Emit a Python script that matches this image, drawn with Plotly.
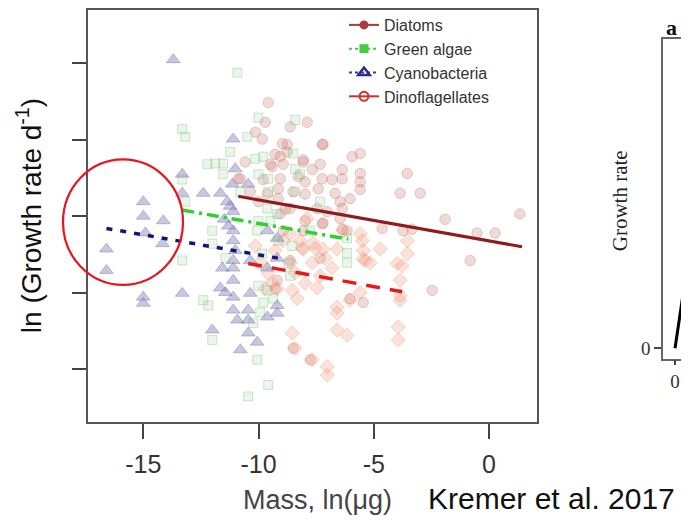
import plotly.graph_objects as go

# ---------------- data (ln mass in ug, ln growth rate per day) ----------------
diatom_x = [-9.58, -9.71, -7.89, -9.84, -8.97, -8.76, -7.24, -9.28, -9.06, -8.06, -5.94, -5.59,
            -9.41, -8.93, -7.67, -7.33, -6.37, -5.59, -9.06, -9.15, -7.98, -7.24, -6.81, -6.37,
            -5.59, -5.59, -8.50, -7.98, -7.41, -6.68, -6.03, -6.46, -10.88, -10.01, -9.15, -8.84,
            -7.98, -7.20, -6.37, -8.76, -9.49, -8.06, -7.20, -3.55, -3.86, -2.99, -1.91, 1.34,
            -0.52, 0.26, -0.82, -2.47, -3.73, -4.64, -6.16, -6.46, -7.02, -7.46, -8.63, -9.06,
            -8.93, -8.06, -7.33, -8.63, -9.19, -6.03, -5.46, -7.76, -8.50, -10.79, -9.62, -3.34,
            -7.24, -6.37, -9.28, -10.14, -8.63, -10.58, -8.28, -9.80, -10.36]
diatom_y = [0.49, 0.23, 0.23, 0.01, -0.05, -0.06, -0.06, -0.19, -0.22, -0.26, -0.22, -0.18,
            -0.35, -0.32, -0.39, -0.32, -0.39, -0.44, -0.51, -0.64, -0.55, -0.51, -0.52, -0.51,
            -0.55, -0.65, -0.68, -0.71, -0.64, -0.70, -0.77, -0.81, -0.51, -0.81, -0.77, -0.91,
            -1.06, -1.09, -0.90, -0.16, -0.32, -0.29, -0.06, -0.44, -0.70, -0.70, -1.04, -0.97,
            -1.22, -1.22, -1.58, -1.97, -1.19, -1.16, -1.19, -1.03, -0.94, -0.90, -0.90, -0.97,
            -1.19, -1.19, -1.55, -1.58, -1.84, -2.08, -2.13, -2.88, -2.73, -0.51, -0.71, -1.17,
            -1.10, -1.17, -1.95, 0.10, 0.17, -0.29, -0.48, -0.52, -0.68]

green_x = [-10.92, -13.31, -13.18, -10.49, -10.01, -8.41, -12.22, -11.88, -11.53, -11.53, -13.31,
           -10.14, -9.80, -8.50, -10.01, -9.58, -8.41, -8.41, -9.58, -9.62, -9.19, -10.01, -13.18,
           -12.01, -12.01, -13.31, -11.44, -12.40, -12.18, -12.01, -10.06, -9.58, -10.45, -10.23,
           -9.80, -9.36, -6.16, -6.16, -6.16, -9.84, -10.01, -9.62, -9.93, -8.63, -8.71, -8.19,
           -9.49, -10.06, -8.54, -11.23, -10.79, -9.15, -7.33, -7.76]
green_y = [0.88, 0.14, 0.04, 0.04, 0.29, 0.26, -0.32, -0.31, -0.31, -0.45, -0.52,
           -0.25, -0.22, -0.18, -0.45, -0.51, -0.38, -0.68, -0.68, -0.90, -0.97, -1.06, -0.81,
           -1.19, -1.36, -1.58, -1.55, -2.10, -2.17, -2.62, -2.88, -3.21, -3.36, -2.40,
           -2.13, -2.08, -1.29, -1.48, -1.61, -1.49, -1.91, -1.97, -2.26, -1.78, -1.62, -0.45,
           -1.06, -1.19, -1.39, -0.16, -0.68, -1.32, -0.81, -1.19]

cyano_x = [-13.70, -11.10, -13.31, -13.31, -12.40, -11.66, -11.01, -11.14, -10.45, -15.00, -15.00,
           -14.13, -11.36, -11.23, -11.10, -14.17, -16.60, -16.60, -15.00, -15.00, -13.31, -12.01,
           -11.66, -11.10, -11.10, -11.10, -11.57, -11.10, -10.36, -9.62, -9.19, -9.62, -9.19,
           -11.10, -11.10, -10.36, -10.45, -11.10, -10.92, -9.19, -9.19, -9.62, -10.45, -10.06,
           -10.79, -11.44, -11.01, -10.45, -14.91, -11.49, -11.31]
cyano_y = [1.05, 0.01, -0.45, -0.70, -0.70, -0.70, -0.38, -0.58, -0.58, -0.81, -1.00,
           -1.06, -0.81, -0.87, -0.94, -1.36, -1.43, -1.71, -2.06, -2.14, -2.01, -2.49,
           -1.94, -1.19, -1.32, -1.58, -1.68, -1.68, -1.58, -1.19, -1.29, -1.68, -1.55,
           -1.84, -2.06, -2.01, -2.23, -2.23, -2.36, -2.17, -2.27, -2.32, -2.53, -2.65,
           -2.75, -2.00, -1.45, -2.36, -1.22, -1.04, -1.13]

dino_x = [-5.59, -5.46, -5.37, -5.59, -6.03, -6.59, -6.59, -6.59, -6.16, -8.54, -8.41, -7.67,
          -7.02, -7.02, -8.63, -8.11, -7.54, -7.11, -7.67, -6.81, -8.63, -8.41, -7.98, -8.54,
          -8.32, -9.19, -9.71, -9.28, -9.58, -9.41, -7.89, -8.93, -8.19, -7.63, -8.06, -7.20,
          -6.59, -6.33, -5.50, -4.72, -5.46, -3.99, -3.86, -3.55, -3.55, -3.86, -3.94, -3.94,
          -5.16, -3.77, -3.86, -7.46, -7.33, -10.14, -9.93]
dino_y = [-1.23, -1.45, -1.58, -2.00, -2.10, -2.19, -2.27, -2.49, -2.56, -2.53, -2.73, -2.88,
          -2.97, -3.08, -1.23, -1.42, -1.42, -1.55, -1.61, -1.68, -1.61, -1.74, -1.88, -1.97,
          -2.08, -1.95, -1.95, -1.45, -1.75, -1.87, -1.03, -1.32, -1.32, -1.35, -1.43, -1.43,
          -1.43, -1.19, -1.32, -1.43, -1.56, -1.62, -1.84, -1.32, -1.49, -2.10, -2.45, -2.62,
          -1.61, -1.65, -2.04, -1.94, -1.78, -1.39, -1.61]

# fitted regression lines (endpoints)
fit_diatom_x, fit_diatom_y = [-10.88, 1.43], [-0.74, -1.40]
fit_green_x, fit_green_y = [-13.31, -6.11], [-0.92, -1.30]
fit_cyano_x, fit_cyano_y = [-16.60, -9.15], [-1.16, -1.55]
fit_dino_x, fit_dino_y = [-10.45, -3.77], [-1.62, -1.99]

groups = ["Diatoms", "Green algae", "Cyanobacteria", "Dinoflagellates"]
x_ticks = [-15, -10, -5, 0]
x_tick_labels = ["-15", "-10", "-5", "0"]
y_ticks = [-3, -2, -1, 0, 1]

# partial panel "a" (growth rate vs resource)
panel_a_x = [0, 0.6]
panel_a_y = [0, 0.378]
panel_a_pt_x = [0.585]
panel_a_pt_y = [0.821]

# ---------------- layout helpers (page has an 8px body margin) ----------------
OFF = 8
W, H = 689 - OFF, 520 - OFF


def px(x):
    return (x - OFF) / W


def py(y):
    return min(1.0, 1 - (y - OFF) / H)


# ---------------- figure ----------------
fig = go.Figure()

fig.add_trace(go.Scatter(x=diatom_x, y=diatom_y, mode="markers", showlegend=False,
                         marker=dict(symbol="circle", size=10.5, color="rgba(200,120,110,0.27)",
                                     line=dict(color="rgba(185,105,95,0.30)", width=1))))
fig.add_trace(go.Scatter(x=dino_x, y=dino_y, mode="markers", showlegend=False,
                         marker=dict(symbol="diamond", size=11, color="rgba(242,150,120,0.28)",
                                     line=dict(color="rgba(232,130,100,0.30)", width=1))))
fig.add_trace(go.Scatter(x=green_x, y=green_y, mode="markers", showlegend=False,
                         marker=dict(symbol="square", size=9, color="rgba(160,215,160,0.22)",
                                     line=dict(color="rgba(120,185,120,0.35)", width=1))))
fig.add_trace(go.Scatter(x=cyano_x, y=cyano_y, mode="markers", showlegend=False,
                         marker=dict(symbol="triangle-up", size=12, color="rgba(130,130,185,0.45)",
                                     line=dict(color="rgba(110,110,170,0.40)", width=1))))

# regression lines
fig.add_trace(go.Scatter(x=fit_diatom_x, y=fit_diatom_y, mode="lines", showlegend=False,
                         line=dict(color="#8e1c1c", width=3)))
fig.add_trace(go.Scatter(x=fit_green_x, y=fit_green_y, mode="lines", showlegend=False,
                         line=dict(color="#2fcf2f", width=3.5, dash="12px,5px,3px,5px")))
fig.add_trace(go.Scatter(x=fit_cyano_x, y=fit_cyano_y, mode="lines", showlegend=False,
                         line=dict(color="#141478", width=3.5, dash="6px,8px")))
fig.add_trace(go.Scatter(x=fit_dino_x, y=fit_dino_y, mode="lines", showlegend=False,
                         line=dict(color="#e51a1a", width=3.5, dash="14px,10px")))

# legend entries
legend_styles = [
    dict(line=dict(color="#b03a3a", width=2), marker=dict(symbol="circle", size=9, color="#b03a3a")),
    dict(line=dict(color="#44cc44", width=2, dash="dot"), marker=dict(symbol="square", size=9, color="#44cc44")),
    dict(line=dict(color="#3a3aa0", width=2, dash="dot"), marker=dict(symbol="triangle-up-open", size=10, color="#2a2a90", line=dict(width=2.5))),
    dict(line=dict(color="#dd2a2a", width=2), marker=dict(symbol="circle-open", size=9, color="#dd2a2a", line=dict(width=2))),
]
for name, st in zip(groups, legend_styles):
    fig.add_trace(go.Scatter(x=[None], y=[None], mode="lines+markers", name=name, **st))

# partial panel a
fig.add_trace(go.Scatter(x=panel_a_x, y=panel_a_y, mode="lines", showlegend=False,
                         xaxis="x2", yaxis="y2", line=dict(color="black", width=3)))
fig.add_trace(go.Scatter(x=panel_a_pt_x, y=panel_a_pt_y, mode="markers", showlegend=False,
                         xaxis="x2", yaxis="y2", cliponaxis=False,
                         marker=dict(symbol="circle-open", size=9, color="#222", line=dict(width=2.5))))

fig.update_layout(
    width=W, height=H, autosize=False,
    margin=dict(l=0, r=0, t=0, b=0),
    paper_bgcolor="white", plot_bgcolor="white",
    font=dict(family="Liberation Sans, Arial, sans-serif", color="#333"),
    xaxis=dict(domain=[px(88), px(537)], range=[-17.4, 2.08],
               tickvals=x_ticks, ticktext=x_tick_labels,
               ticks="outside", ticklen=15, tickwidth=2, tickcolor="#444",
               tickfont=dict(size=25, color="#333"), ticklabelstandoff=4,
               showline=True, linecolor="#555", linewidth=2, mirror=True,
               showgrid=False, zeroline=False),
    yaxis=dict(domain=[py(422), py(7)], range=[-3.70, 1.70],
               tickvals=y_ticks, showticklabels=False,
               ticks="outside", ticklen=14, tickwidth=2, tickcolor="#444",
               showline=True, linecolor="#555", linewidth=2, mirror=True,
               showgrid=False, zeroline=False),
    xaxis2=dict(domain=[px(663), 1.0], range=[-0.5, 0.58], anchor="y2",
                tickvals=[0], ticktext=["0"], ticks="outside", ticklen=5, tickwidth=1.5,
                tickcolor="#444", tickfont=dict(size=19, color="#333", family="Liberation Serif, serif"),
                showline=True, linecolor="#666", linewidth=1.5, mirror=True,
                showgrid=False, zeroline=False),
    yaxis2=dict(domain=[py(358), py(37)], range=[-0.04, 1.2], anchor="x2",
                tickvals=[0], ticktext=["0"], ticks="outside", ticklen=7, tickwidth=1.5,
                tickcolor="#444", tickfont=dict(size=19, color="#333", family="Liberation Serif, serif"),
                showline=True, linecolor="#666", linewidth=1.5, mirror=False,
                showgrid=False, zeroline=False),
    legend=dict(x=px(344), y=1 + 2 / H, xanchor="left", yanchor="top",
                bgcolor="rgba(0,0,0,0)", font=dict(size=16, color="#333"),
                itemwidth=30, tracegroupgap=0),
    showlegend=True,
)

# red highlight circle
fig.add_shape(type="circle", xref="paper", yref="paper",
              x0=px(63), x1=px(183), y0=py(284), y1=py(158),
              line=dict(color="#e8141e", width=2.2))

# text annotations
fig.add_annotation(text="ln (Growth rate d<sup>-1</sup>)", xref="paper", yref="paper",
                   x=px(29), y=py(215), xanchor="center", yanchor="middle",
                   textangle=-90, showarrow=False, font=dict(size=28, color="#111"))
fig.add_annotation(text="Mass, ln(\u03bcg)", xref="paper", yref="paper",
                   x=px(317), y=py(500), xanchor="center", yanchor="middle", showarrow=False,
                   font=dict(size=27, color="#444"))
fig.add_annotation(text="Kremer et al. 2017", xref="paper", yref="paper",
                   x=px(551), y=py(498), xanchor="center", yanchor="middle", showarrow=False,
                   font=dict(size=30, color="#111"))
fig.add_annotation(text="<b>a</b>", xref="paper", yref="paper",
                   x=px(671), y=py(26), xanchor="center", yanchor="middle", showarrow=False,
                   font=dict(size=22, color="#111", family="Liberation Serif, serif"))
fig.add_annotation(text="Growth rate", xref="paper", yref="paper",
                   x=px(620), y=py(200), xanchor="center", yanchor="middle",
                   textangle=-90, showarrow=False,
                   font=dict(size=21, color="#222", family="Liberation Serif, serif"))

fig.write_html("out.html")
